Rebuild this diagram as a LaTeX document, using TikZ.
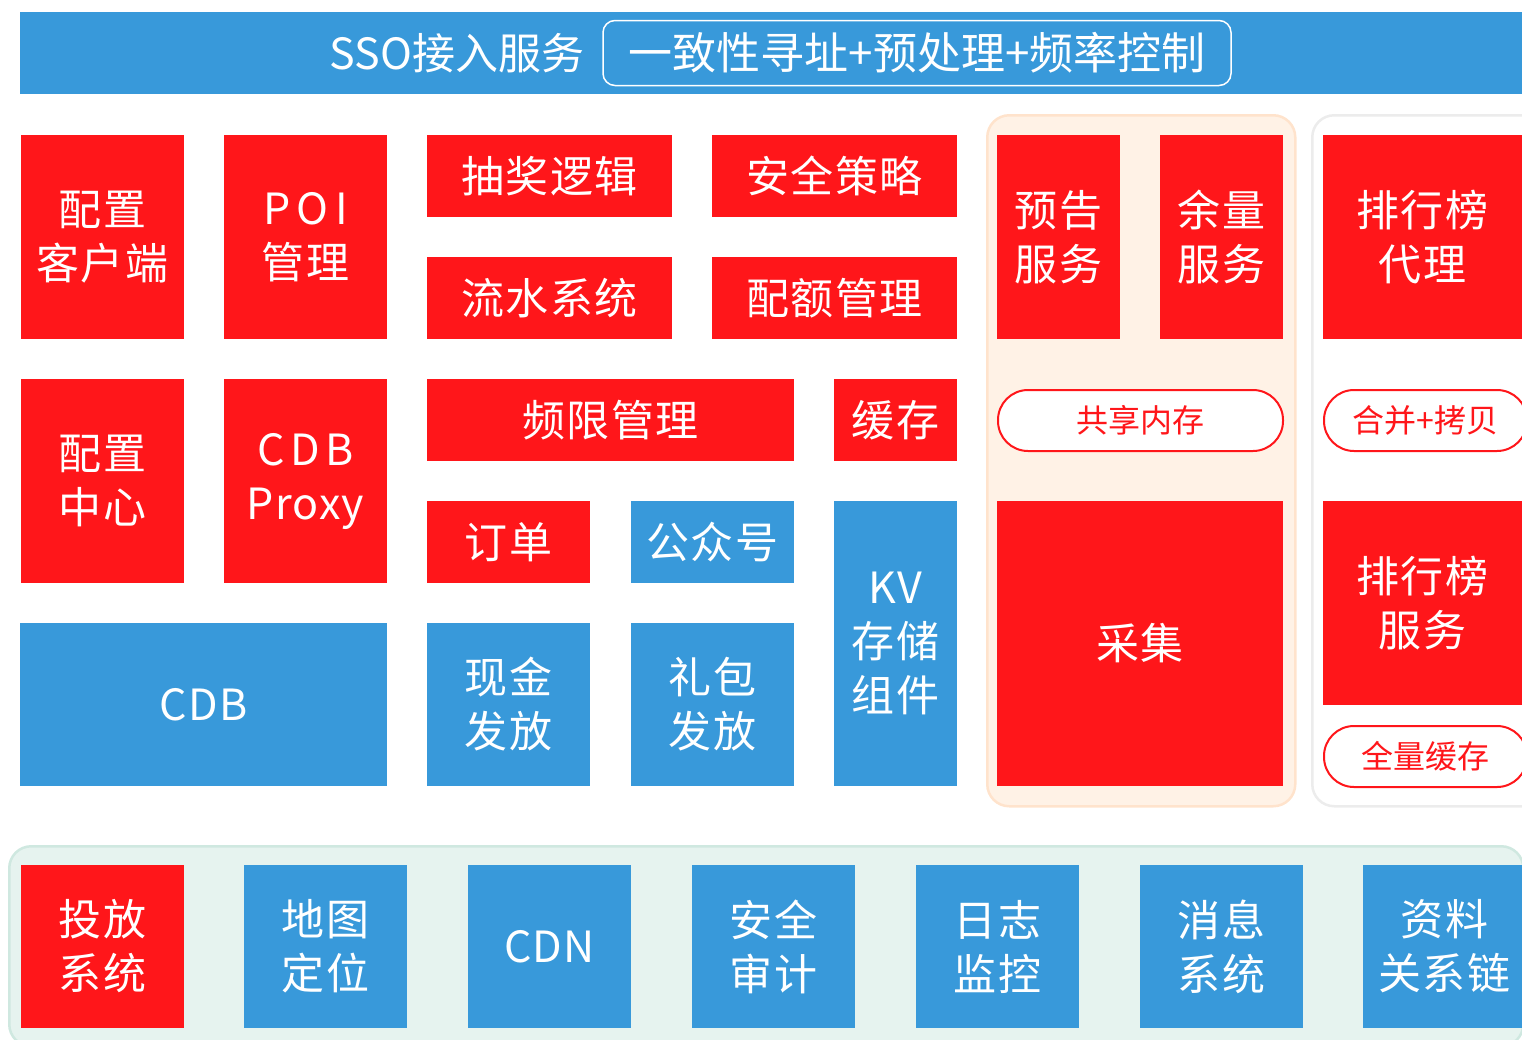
\documentclass[tikz,border=0pt]{standalone}
\usepackage{fontspec}
\setmainfont{Noto Sans CJK SC}
\definecolor{cred}{HTML}{FF161A}
\definecolor{cblue}{HTML}{3899DA}
\definecolor{orfill}{HTML}{FFF2E6}
\definecolor{orline}{HTML}{FFE3CC}
\definecolor{grline}{HTML}{ECECEC}
\definecolor{gnfill}{HTML}{E6F3EF}
\definecolor{gnline}{HTML}{CFE8E0}
\tikzset{
  box/.style={anchor=north west, inner sep=0pt, outer sep=0pt, align=center, text=white,
    font=\fontsize{43}{54}\selectfont\addfontfeatures{LetterSpace=3}},
  rbox/.style={box, fill=cred},
  bbox/.style={box, fill=cblue},
  pill/.style={anchor=north west, inner sep=0pt, draw=cred, line width=2pt, fill=white,
    rounded corners=30pt, text=cred, font=\fontsize{32}{36}\selectfont},
  panel/.style={rounded corners=22pt, line width=2.5pt}
}
\begin{document}
\begin{tikzpicture}[x=1pt,y=-1pt]
\useasboundingbox (0,0) rectangle (1522,1039);
\clip (0,0) rectangle (1522,1039);
% top bar
\node[anchor=north west, inner sep=0pt, fill=cblue, minimum width=1520, minimum height=82] (top) at (20,12) {};
\node[text=white, font=\fontsize{43}{48}\selectfont] (sso) at (457,53) {SSO接入服务};
\node[draw=white, line width=1.5pt, rounded corners=12pt, minimum width=628, minimum height=65, text=white, font=\fontsize{44}{48}\selectfont] (addr) at (917,53) {一致性寻址+预处理+频率控制};
% panels
\node[panel, anchor=north west, fill=orfill, draw=orline, minimum width=308, minimum height=691] (orpanel) at (986,114) {};
\node[panel, anchor=north west, fill=white, draw=grline, minimum width=240, minimum height=691] (grpanel) at (1311,114) {};
\node[panel, anchor=north west, fill=gnfill, draw=gnline, minimum width=1514, minimum height=200] (gnpanel) at (8,845) {};
% row 1
\node[rbox, minimum width=163, minimum height=204] (cfgc) at (21,135) {配置\\客户端};
\node[rbox, minimum width=163, minimum height=204] (poi) at (224,135) {\addfontfeatures{LetterSpace=15}POI\\管理};
\node[rbox, minimum width=245, minimum height=82] (lottery) at (427,135) {抽奖逻辑};
\node[rbox, minimum width=245, minimum height=82] (secpol) at (712,135) {安全策略};
\node[rbox, minimum width=245, minimum height=82] (flow) at (427,257) {流水系统};
\node[rbox, minimum width=245, minimum height=82] (quota) at (712,257) {配额管理};
% orange panel content
\node[rbox, minimum width=123, minimum height=204] (notice) at (997,135) {预告\\服务};
\node[rbox, minimum width=123, minimum height=204] (remain) at (1160,135) {余量\\服务};
\node[pill, minimum width=285, minimum height=61] (shm) at (997,389) {共享内存};
\node[rbox, minimum width=286, minimum height=285] (collect) at (997,501) {采集};
% right panel content
\node[rbox, minimum width=199, minimum height=204] (rankproxy) at (1323,135) {排行榜\\代理};
\node[pill, minimum width=203, minimum height=61] (merge) at (1323,389) {合并+拷贝};
\node[rbox, minimum width=199, minimum height=204] (ranksvc) at (1323,501) {排行榜\\服务};
\node[pill, minimum width=203, minimum height=61] (fullcache) at (1323,725) {全量缓存};
% row 2
\node[rbox, minimum width=163, minimum height=204] (cfgcenter) at (21,379) {配置\\中心};
\node[rbox, minimum width=163, minimum height=204] (cdbproxy) at (224,379) {\addfontfeatures{LetterSpace=12}CDB\\Proxy};
\node[rbox, minimum width=367, minimum height=82] (freq) at (427,379) {频限管理};
\node[rbox, minimum width=123, minimum height=82] (cache) at (834,379) {缓存};
\node[rbox, minimum width=163, minimum height=82] (order) at (427,501) {订单};
\node[bbox, minimum width=163, minimum height=82] (pub) at (631,501) {公众号};
\node[bbox, minimum width=123, minimum height=285] (kv) at (834,501) {KV\\存储\\组件};
\node[bbox, minimum width=367, minimum height=163] (cdb) at (20,623) {CDB};
\node[bbox, minimum width=163, minimum height=163] (cash) at (427,623) {现金\\发放};
\node[bbox, minimum width=163, minimum height=163] (gift) at (631,623) {礼包\\发放};
% bottom row
\node[rbox, minimum width=163, minimum height=163] (deliver) at (21,865) {投放\\系统};
\node[bbox, minimum width=163, minimum height=163] (map) at (244,865) {地图\\定位};
\node[bbox, minimum width=163, minimum height=163] (cdn) at (468,865) {CDN};
\node[bbox, minimum width=163, minimum height=163] (audit) at (692,865) {安全\\审计};
\node[bbox, minimum width=163, minimum height=163] (log) at (916,865) {日志\\监控};
\node[bbox, minimum width=163, minimum height=163] (msg) at (1140,865) {消息\\系统};
\node[bbox, minimum width=163, minimum height=163] (profile) at (1363,865) {资料\\关系链};
\end{tikzpicture}
\end{document}
